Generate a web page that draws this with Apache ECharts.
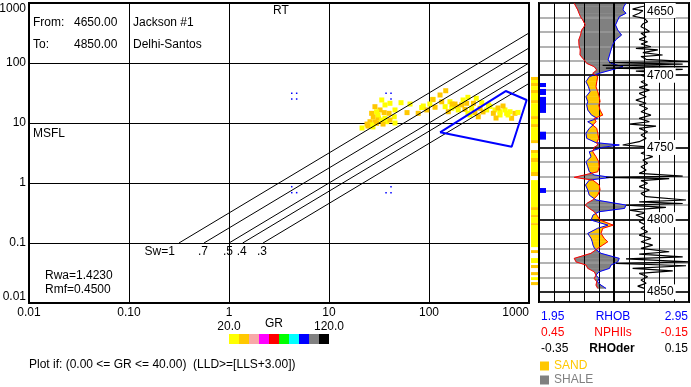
<!DOCTYPE html>
<html><head><meta charset="utf-8">
<script src="https://cdn.jsdelivr.net/npm/echarts/dist/echarts.min.js"></script>
<style>html,body{margin:0;padding:0;background:#fff}#c{width:691px;height:387px}</style>
</head><body><div id="c"></div>
<script>
const FONT = '"Liberation Sans", Arial, sans-serif';

// ---------- Crossplot (RT vs MSFL) ----------
const rtTickLabels = ['0.01', '0.10', '1', '10', '100', '1000'];
const msflTickLabels = ['0.01', '0.1', '1', '10', '100', '1000'];
const swRatio = [3.16, 5.62, 10, 13.7, 21.9];           // RT/MSFL of each Sw line
const swLabels = ['Sw=1', '.7', '.5', '.4', '.3'];
const SW_BASE_MSFL = 0.1;
const RT_MAX = 1000;
const polyRT = [129, 585, 948, 671];
const polyMSFL = [7.0, 34.1, 24.2, 4.03];
const grBreaks = [20, 30, 40, 50, 60, 70, 80, 90, 100, 110, 120];
const grColors = ['#ffff00', '#ffc800', '#f8a8a8', '#ff00ff', '#ff0000', '#00ff00', '#00ffff', '#0000ff', '#808080', '#000000'];
// [RT, MSFL, GR]
const xplotPoints = [
  [33.7,24.2,25],[28.8,18.7,35],[36.3,20,25],[40.7,21.3,25],[52.5,21.8,25],[32.4,16.5,35],[26.7,14.5,35],
  [29.9,15.4,25],[35.6,14.9,35],[39.9,14.5,35],[44.9,12.7,25],[27.7,12.7,35],[31.1,12,35],[36.3,12,25],
  [25.7,10.5,35],[28.8,10.5,35],[33.7,11.2,25],[37.8,10.5,25],[26.7,9.3,25],[29.9,9.9,35],[60.3,14.9,35],
  [24.5,8.9,35],[27.5,8.6,25],[45.7,16.5,25],[30.9,13.6,25],[24,9.6,35],[34.7,9.6,35],[40.7,11.2,35],
  [45.7,10,25],[21.4,8.25,25],
  [147,34.5,35],[129,29.3,35],[110,24.8,25],[134,22.6,35],[162,22.6,25],[87.7,19.2,25],[78,14.5,35],
  [95,16.5,35],[115,18.3,35],[145,18.7,25],[169,17.6,25],[190,18.7,35],[156,15.4,35],[109,24.5,35],
  [84.5,18.1,25],[64.6,20.7,25],[102,20.7,25],[170,20.7,35],
  [245,26.8,25],[297,25.8,25],[212,20,35],[238,21.3,35],[278,21.3,35],[337,21.8,25],[393,20,25],
  [196,16.5,25],[229,16.9,35],[267,17.6,25],[324,17.6,35],[378,16.5,25],[245,14.5,25],[288,14.9,35],
  [457,16.5,25],[513,15.4,25],[575,16.5,25],[646,15.4,25],[724,14.5,35],[440,14.5,35],[598,14.5,25],
  [513,13.6,25],[311,12.7,35],[670,12,35],[407,18.9,25],[776,15,25],[550,19.2,35],[219,24.2,25],
  [182,20.7,35],[490,17.8,35],[257,13.6,25],[347,15.3,35],[617,13.6,25],[468,12.1,35]
];
const blueDots = [[4.24,31.3],[4.75,31.3],[4.24,25.1],[4.75,25.1],[37.2,31.3],[41.7,25.1],[41.7,31.3],
  [4.24,0.868],[4.24,0.69],[4.75,0.69],[37.2,0.69],[41.7,0.868],[41.7,0.69]];

// ---------- Log track ----------
const DEPTH_MIN = 4650, DEPTH_MAX = 4857;
const RHOB_MIN = 1.95, RHOB_MAX = 2.95;
const NPHI_MIN = -0.15, NPHI_MAX = 0.45;
const RHODER_MIN = -0.35, RHODER_MAX = 0.15;

const logDepth = [4650.2,4652.6,4654.8,4657.1,4659.5,4661.8,4665.2,4668.7,4672.2,4675.6,4679.1,4682.5,4686.0,
  4689.5,4691.8,4694.1,4696.4,4698.7,4701.0,4704.5,4708.0,4711.4,4714.9,4718.3,4720.6,4724.1,4727.6,4729.9,
  4732.2,4734.5,4736.8,4740.2,4743.7,4746.7,4748.3,4749.9,4753.0,4756.4,4759.9,4763.4,4766.8,4769.1,4770.7,
  4772.6,4776.0,4779.5,4783.0,4786.4,4788.3,4789.9,4792.2,4794.5,4796.8,4800.3,4803.8,4806.0,4809.5,4813.0,
  4815.3,4817.6,4819.9,4823.3,4826.8,4829.2,4831.4,4833.7,4836.1,4838.4,4840.7,4843.0,4845.3,4847.6];
const rhob = [2.53,2.515,2.51,2.53,2.485,2.475,2.46,2.475,2.50,2.46,2.44,2.43,2.42,
  2.41,2.43,2.51,2.43,2.35,2.285,2.263,2.28,2.29,2.263,2.275,2.268,2.275,2.30,2.34,
  2.275,2.31,2.285,2.263,2.268,2.33,2.485,2.375,2.285,2.297,2.263,2.275,2.285,2.32,2.43,
  2.285,2.26,2.275,2.285,2.33,2.44,2.53,2.52,2.35,2.31,2.297,2.41,2.34,2.275,2.297,
  2.305,2.31,2.32,2.363,2.485,2.475,2.43,2.42,2.35,2.33,2.35,2.34,2.363,2.397];
const nphi = [0.309,0.302,0.295,0.290,0.284,0.275,0.265,0.279,0.284,0.291,0.290,0.285,0.286,
  0.269,0.259,0.229,0.219,0.235,0.215,0.219,0.222,0.215,0.209,0.206,0.211,0.206,0.195,0.229,
  0.222,0.235,0.219,0.215,0.211,0.219,0.215,0.229,0.235,0.222,0.211,0.209,0.215,0.269,0.309,
  0.235,0.209,0.206,0.215,0.235,0.255,0.265,0.249,0.229,0.219,0.206,0.153,0.195,0.202,0.189,
  0.175,0.195,0.215,0.242,0.309,0.302,0.262,0.255,0.229,0.222,0.229,0.219,0.222,0.215];

const derDepth = [4650.2,4651.4,4652.6,4654.2,4655.3,4657.1,4659.0,4660.6,4662.9,4664.5,4666.4,4668.2,4669.8,
  4671.0,4673.3,4675.2,4676.8,4678.4,4680.3,4681.4,4682.5,4684.4,4686.0,4687.1,4689.0,4690.6,4691.3,4692.3,
  4693.2,4694.1,4695.1,4696.0,4697.1,4698.3,4699.9,4702.2,4704.5,4706.8,4708.4,4710.3,4712.6,4714.9,4717.2,
  4719.4,4720.6,4723.0,4725.3,4727.6,4729.9,4732.2,4733.8,4735.2,4736.8,4739.1,4741.4,4743.7,4746.0,4748.3,
  4749.4,4751.7,4754.0,4756.4,4758.7,4761.0,4763.4,4765.7,4768.0,4769.8,4770.7,4771.6,4773.0,4774.8,4777.1,
  4779.5,4781.8,4784.1,4786.4,4787.7,4788.8,4789.9,4791.5,4793.4,4795.2,4796.8,4799.1,4801.4,4803.8,4806.0,
  4808.4,4810.7,4813.0,4815.3,4817.6,4819.9,4822.2,4823.8,4825.7,4827.2,4829.2,4830.3,4831.9,4833.7,4835.4,
  4837.2,4839.5,4841.8,4844.1,4846.0,4847.6];
const rhoder = [0.007,0.023,-0.01,-0.038,-0.004,-0.016,-0.038,0.001,0.012,-0.004,-0.01,0.007,0.018,
  -0.01,0.007,-0.016,0.012,-0.01,0.023,-0.027,0.046,-0.004,0.062,-0.01,0.007,0.151,-0.116,0.129,
  -0.138,0.15,-0.127,0.129,-0.027,0.051,-0.01,0.023,-0.01,0.012,-0.016,0.018,-0.016,0.007,-0.027,
  0.007,-0.016,0.012,-0.01,0.023,-0.016,0.018,-0.049,0.04,-0.016,0.012,-0.01,0.007,-0.016,-0.071,
  0.001,0.018,-0.01,0.029,-0.004,0.012,-0.01,0.007,-0.016,0.129,-0.127,0.084,-0.01,0.012,-0.016,
  0.018,-0.01,0.007,0.14,-0.016,0.129,-0.06,0.073,-0.049,0.007,-0.027,0.001,-0.016,0.007,-0.01,
  0.012,-0.016,0.023,-0.01,0.029,-0.01,0.084,-0.016,0.129,-0.06,0.151,-0.093,0.14,-0.038,0.096,
  -0.016,0.012,-0.01,0.007,-0.021,0.001];

// sand flag strip (depth intervals, GR)
const stripTop = [4701.2,4703.3,4705.4,4707.5,4710.2,4712.3,4717.2,4719.3,4728.3,4730.3,4733.8,4735.9,4744.9,
  4751.8,4753.9,4757.3,4760.1,4767.0,4772.6,4786.4,4791.3,4793.3,4796.8,4798.2,4802.4,4803.7,4821.1,4826.6,
  4831.4,4836.3,4839.8,4843.2];
const stripBottom = [4703.3,4705.4,4707.5,4710.2,4712.3,4717.2,4719.3,4728.3,4730.3,4733.8,4735.9,4744.9,4747.0,
  4753.9,4757.3,4760.1,4767.0,4769.8,4786.4,4791.3,4793.3,4796.8,4798.2,4802.4,4803.7,4819.0,4823.1,4830.0,
  4833.5,4838.4,4841.8,4845.3];
const stripGR = [35,25,35,25,35,25,35,25,35,25,35,25,35,
  35,25,35,25,35,25,25,35,25,35,25,35,25,35,25,
  35,35,25,35];
// in-polygon flags
const flagTop = [4705.4, 4709.5, 4715.0, 4739.1, 4778.1];
const flagBottom = [4708.2, 4713.7, 4726.1, 4744.6, 4781.5];

// ---------- helpers ----------
function nphiOnRhobScale(n) {
  return RHOB_MIN + (NPHI_MAX - n) / (NPHI_MAX - NPHI_MIN) * (RHOB_MAX - RHOB_MIN);
}
function fillRenderer(wantSand, color) {
  return function (params, api) {
    const i = api.value(2);
    if (i >= logDepth.length - 1) return;
    const d0 = logDepth[i], d1 = logDepth[i + 1];
    const b0 = api.coord([rhob[i], d0]), b1 = api.coord([rhob[i + 1], d1]);
    const r0 = api.coord([nphiOnRhobScale(nphi[i]), d0]), r1 = api.coord([nphiOnRhobScale(nphi[i + 1]), d1]);
    const s0 = r0[0] - b0[0], s1 = r1[0] - b1[0];
    const ok = s => wantSand ? s > 0 : s < 0;
    let pts = null;
    if (ok(s0) && ok(s1)) pts = [b0, b1, r1, r0];
    else if (ok(s0) || ok(s1)) {
      const t = s0 / (s0 - s1);
      const m = [b0[0] + (b1[0] - b0[0]) * t, b0[1] + (b1[1] - b0[1]) * t];
      pts = ok(s0) ? [b0, m, r0] : [m, b1, r1];
    }
    if (!pts) return;
    return { type: 'polygon', shape: { points: pts }, style: { fill: color, stroke: color, lineWidth: 0.5 } };
  };
}

const series = [];
swRatio.forEach(r => {
  series.push({ type: 'line', xAxisIndex: 0, yAxisIndex: 0, symbol: 'none', silent: true, z: 3,
    lineStyle: { color: '#000', width: 1 },
    data: [[SW_BASE_MSFL * r, SW_BASE_MSFL], [RT_MAX, RT_MAX / r]] });
});
// Sw labels at the foot of each line
series.push({ type: 'custom', xAxisIndex: 0, yAxisIndex: 0, silent: true, z: 5,
  renderItem: function (params, api) {
    const p = api.coord([api.value(0), api.value(1)]);
    const first = params.dataIndex === 0;
    return { type: 'text', x: first ? p[0] - 4 : p[0] - 1, y: p[1] + 3,
      style: { text: swLabels[params.dataIndex], fill: '#000', font: '12px ' + FONT,
        align: first ? 'right' : 'center', verticalAlign: 'top' } };
  },
  data: swRatio.map(r => [SW_BASE_MSFL * r, SW_BASE_MSFL]) });
const scatterIdx = series.length;
series.push({ type: 'scatter', xAxisIndex: 0, yAxisIndex: 0, symbol: 'rect', symbolSize: 5, z: 2,
  itemStyle: { opacity: 1 }, data: xplotPoints });
series.push({ type: 'scatter', xAxisIndex: 0, yAxisIndex: 0, symbol: 'rect', symbolSize: 1.5, z: 2,
  itemStyle: { color: '#0000ff', opacity: 1 }, data: blueDots });
series.push({ type: 'line', xAxisIndex: 0, yAxisIndex: 0, symbol: 'none', z: 4,
  lineStyle: { color: '#0000ff', width: 2 },
  data: polyRT.map((x, i) => [x, polyMSFL[i]]).concat([[polyRT[0], polyMSFL[0]]]) });

const segData = logDepth.map((d, i) => [rhob[i], d, i]);
series.push({ name: 'SAND', type: 'custom', xAxisIndex: 1, yAxisIndex: 1, z: 1,
  itemStyle: { color: '#ffc800' }, renderItem: fillRenderer(true, '#ffc800'), data: segData });
series.push({ name: 'SHALE', type: 'custom', xAxisIndex: 1, yAxisIndex: 1, z: 1,
  itemStyle: { color: '#808080' }, renderItem: fillRenderer(false, '#808080'), data: segData });
series.push({ type: 'line', xAxisIndex: 1, yAxisIndex: 1, symbol: 'none', z: 3,
  lineStyle: { color: '#0000ff', width: 1 }, data: logDepth.map((d, i) => [rhob[i], d]) });
series.push({ type: 'line', xAxisIndex: 2, yAxisIndex: 1, symbol: 'none', z: 3,
  lineStyle: { color: '#ff0000', width: 1 }, data: logDepth.map((d, i) => [nphi[i], d]) });
series.push({ type: 'line', xAxisIndex: 3, yAxisIndex: 1, symbol: 'none', z: 3.5,
  lineStyle: { color: '#000000', width: 1.2 }, data: derDepth.map((d, i) => [rhoder[i], d]) });
series.push({ type: 'custom', xAxisIndex: 1, yAxisIndex: 1, z: 3,
  renderItem: function (params, api) {
    const p0 = api.coord([RHOB_MIN, api.value(1)]);
    const p1 = api.coord([RHOB_MIN, api.value(2)]);
    return { type: 'rect', shape: { x: p0[0] + 1, y: p0[1], width: 6, height: p1[1] - p0[1] },
      style: { fill: '#0000ff' } };
  },
  data: flagTop.map((t, i) => [RHOB_MIN, t, flagBottom[i]]) });
const stripIdx = series.length;
series.push({ type: 'custom', xAxisIndex: 6, yAxisIndex: 4, z: 2,
  renderItem: function (params, api) {
    const p0 = api.coord([0, api.value(1)]);
    const p1 = api.coord([1, api.value(3)]);
    return { type: 'rect', shape: { x: p0[0], y: p0[1], width: p1[0] - p0[0], height: p1[1] - p0[1] },
      style: { fill: api.visual('color') } };
  },
  data: stripTop.map((t, i) => [0, t, stripGR[i], stripBottom[i]]) });

const hidden = { show: false };
const depthAxis = (extra) => Object.assign({ type: 'value', gridIndex: 1, min: DEPTH_MIN, max: DEPTH_MAX,
  inverse: true, axisLine: hidden, axisTick: hidden, axisLabel: hidden, splitLine: hidden }, extra);

function txt(x, y, s, opt) {
  return Object.assign({ type: 'text', x: x, y: y, silent: true, z: 20,
    style: Object.assign({ text: s, font: '12px ' + FONT, fill: '#000', align: 'left', verticalAlign: 'middle' }, opt || {}) });
}
const BLUE = '#0000ff', RED = '#ff0000';

const option = {
  animation: false,
  backgroundColor: '#fff',
  textStyle: { fontFamily: FONT },
  grid: [
    { left: 29, top: 3, width: 500, height: 300, show: true, borderColor: '#000', borderWidth: 2, backgroundColor: 'transparent', outerBoundsMode: 'none' },
    { left: 539, top: 3, width: 150, height: 299, show: true, borderColor: '#000', borderWidth: 2, backgroundColor: 'transparent', outerBoundsMode: 'none' },
    { left: 531, top: 3, width: 7, height: 299, show: false, outerBoundsMode: 'none' }
  ],
  xAxis: [
    { type: 'log', logBase: 10, gridIndex: 0, min: 0.01, max: 1000,
      axisLine: hidden, axisTick: hidden,
      axisLabel: { color: '#000', fontSize: 12, fontFamily: FONT, margin: 4, alignMaxLabel: 'right',
        formatter: v => rtTickLabels[Math.round(Math.log10(v)) + 2] },
      splitLine: { show: true, lineStyle: { color: '#000', width: 1 } } },
    { type: 'value', gridIndex: 1, min: RHOB_MIN, max: RHOB_MAX, show: false },
    { type: 'value', gridIndex: 1, min: NPHI_MIN, max: NPHI_MAX, inverse: true, show: false },
    { type: 'value', gridIndex: 1, min: RHODER_MIN, max: RHODER_MAX, show: false },
    { type: 'value', gridIndex: 1, min: 0, max: 10, interval: 1, z: 2,
      axisLine: hidden, axisTick: hidden, axisLabel: hidden,
      splitLine: { show: true, lineStyle: { color: '#000', width: 1 } } },
    { type: 'value', gridIndex: 1, min: 0, max: 2, interval: 1, z: 2, position: 'top',
      axisLine: hidden, axisTick: hidden, axisLabel: hidden,
      splitLine: { show: true, lineStyle: { color: '#000', width: 2 } } },
    { type: 'value', gridIndex: 2, min: 0, max: 1, show: false }
  ],
  yAxis: [
    { type: 'log', logBase: 10, gridIndex: 0, min: 0.01, max: 1000,
      axisLine: hidden, axisTick: hidden,
      axisLabel: { color: '#000', fontSize: 12, fontFamily: FONT, margin: 3,
        verticalAlignMaxLabel: 'top', verticalAlignMinLabel: 'bottom',
        formatter: v => msflTickLabels[Math.round(Math.log10(v)) + 2] },
      splitLine: { show: true, lineStyle: { color: '#000', width: 1 } } },
    depthAxis({ interval: 10, z: 2, splitLine: { show: true, lineStyle: { color: '#9a9a9a', width: 1.6 } } }),
    depthAxis({ interval: 50, z: 2.1, splitLine: { show: true, lineStyle: { color: '#000', width: 1.6 } } }),
    depthAxis({ interval: 50, z: 10, position: 'right', offset: -44,
      axisLabel: { show: true, inside: false, margin: 0, color: '#000', fontSize: 12, fontFamily: FONT,
        backgroundColor: '#fff', padding: [3, 2, 0, 2], verticalAlignMinLabel: 'top',
        formatter: v => String(v) } }),
    { type: 'value', gridIndex: 2, min: DEPTH_MIN, max: DEPTH_MAX, inverse: true, show: false }
  ],
  visualMap: [{
    type: 'piecewise', seriesIndex: [scatterIdx, stripIdx], dimension: 2,
    pieces: grColors.map((c, i) => ({ min: grBreaks[i], max: grBreaks[i + 1], color: c })),
    orient: 'horizontal', left: 229, top: 334, itemWidth: 10, itemHeight: 10, itemGap: 0, padding: 0,
    showLabel: false, selectedMode: false, itemSymbol: 'rect', hoverLink: false
  }],
  legend: {
    orient: 'vertical', left: 540, top: 360, itemWidth: 9, itemHeight: 9, itemGap: 2, padding: 0,
    icon: 'rect', selectedMode: false,
    textStyle: { fontSize: 12, fontFamily: FONT },
    data: [{ name: 'SAND', textStyle: { color: '#ffc800' } }, { name: 'SHALE', textStyle: { color: '#808080' } }]
  },
  graphic: [
    txt(33, 23, 'From:'), txt(74, 23, '4650.00'), txt(133, 23, 'Jackson #1'),
    txt(33, 44.5, 'To:'), txt(74, 44.5, '4850.00'), txt(133, 44.5, 'Delhi-Santos'),
    txt(273, 11, 'RT'), txt(33, 133.5, 'MSFL'),
    txt(45, 275.5, 'Rwa=1.4230'), txt(45, 289.5, 'Rmf=0.4500'),
    txt(265, 323.5, 'GR'), txt(229, 327, '20.0', { align: 'center' }), txt(329, 327, '120.0', { align: 'center' }),
    txt(29, 364.5, 'Plot if: (0.00 <= GR <= 40.00)  (LLD>=[LLS+3.00])'),
    txt(541, 317, '1.95', { fill: BLUE }), txt(613, 317, 'RHOB', { fill: BLUE, align: 'center' }), txt(688, 317, '2.95', { fill: BLUE, align: 'right' }),
    txt(541, 332.5, '0.45', { fill: RED }), txt(613, 332.5, 'NPHIls', { fill: RED, align: 'center' }), txt(688, 332.5, '-0.15', { fill: RED, align: 'right' }),
    txt(541, 349, '-0.35'), txt(612, 349, 'RHOder', { align: 'center', font: 'bold 12px ' + FONT }), txt(688, 349, '0.15', { align: 'right' })
  ],
  series: series
};

const chart = echarts.init(document.getElementById('c'), null, { renderer: 'canvas', width: 691, height: 387 });
chart.setOption(option);
</script></body></html>
